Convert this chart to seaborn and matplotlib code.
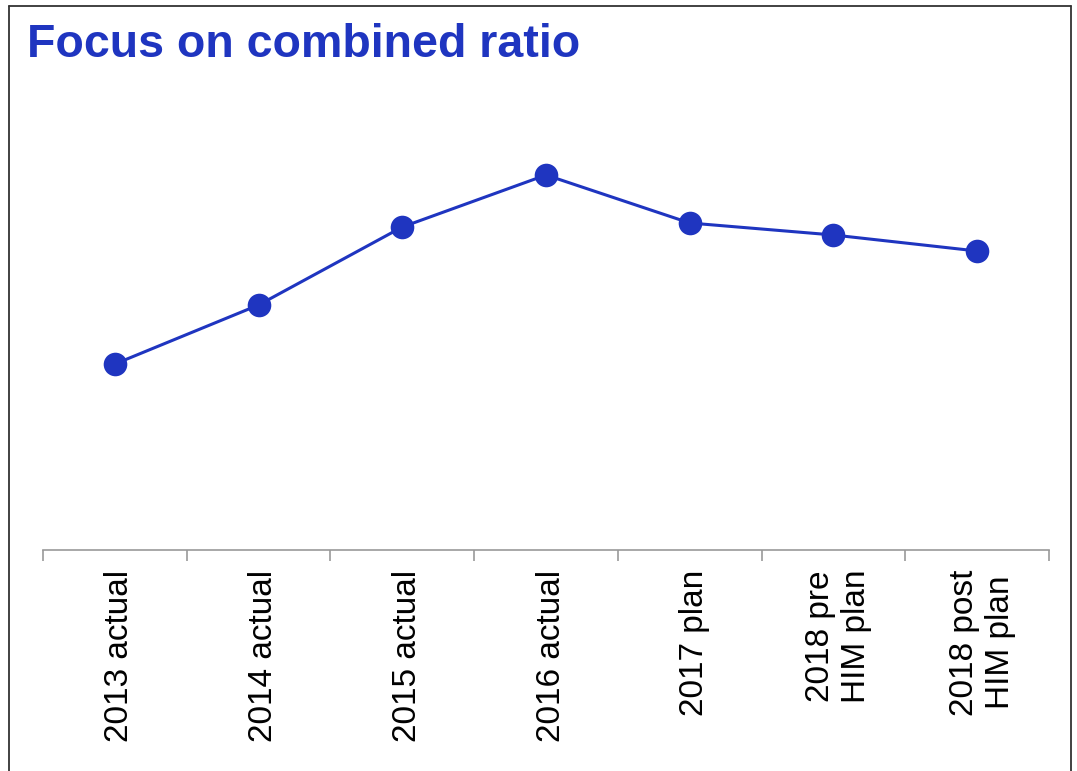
import matplotlib
matplotlib.use("Agg")
import matplotlib.pyplot as plt
from matplotlib.lines import Line2D
from matplotlib.transforms import ScaledTranslation
import seaborn as sns
import pandas as pd

categories = ["2013 actual", "2014 actual", "2015 actual", "2016 actual",
              "2017 plan", "2018 pre\nHIM plan", "2018 post\nHIM plan"]
# relative combined-ratio levels (no y scale shown in the original)
values = [186, 245, 323, 375, 327, 315, 299]

sns.set_theme(style="white")
plt.rcParams['font.family'] = ['Liberation Sans', 'DejaVu Sans']

df = pd.DataFrame({"cat": categories, "val": values, "x": range(len(categories))})

fig = plt.figure(figsize=(10.77, 7.71), dpi=100)
ax = fig.add_axes([43/1077, 221/771, (1049-43)/1077, (550-100)/771])

blue = "#1f35c0"
sns.lineplot(data=df, x="x", y="val", ax=ax, color=blue, linewidth=2.2,
             marker="o", markersize=17, markeredgewidth=0, markeredgecolor=blue)

ax.set_xlim(-0.5, len(categories) - 0.5)
ax.set_ylim(0, 450)
ax.set_xlabel("")
ax.set_ylabel("")
ax.set_yticks([])
for s in ["top", "right", "left"]:
    ax.spines[s].set_visible(False)
ax.spines["bottom"].set_color("#999999")
ax.spines["bottom"].set_linewidth(1.2)

# category labels centered, tick marks at boundaries
ax.set_xticks(range(len(categories)))
ax.set_xticklabels(categories, rotation=90, fontsize=24, color="black",
                   va="top", ha="center", multialignment="center")
ax.tick_params(axis="x", which="major", length=0, pad=14)
ax.set_xticks([i - 0.5 for i in range(len(categories) + 1)], minor=True)
ax.tick_params(axis="x", which="minor", length=8, width=1.2, color="#999999",
               direction="out", bottom=True)
offset = ScaledTranslation(5/100, 0, fig.dpi_scale_trans)
for lbl in ax.get_xticklabels():
    lbl.set_transform(lbl.get_transform() + offset)

fig.text(27/1077, 1 - 45/771, "Focus on combined ratio", fontsize=33.5,
         fontweight="bold", color=blue, va="center", ha="left")

# slide-like frame (left, top, right)
W, H = 1077, 771
fc = "#333333"
fig.add_artist(Line2D([9/W, 9/W], [0, 1 - 6/H], color=fc, linewidth=1.3, transform=fig.transFigure))
fig.add_artist(Line2D([9/W, 1070.5/W], [1 - 6/H, 1 - 6/H], color=fc, linewidth=1.3, transform=fig.transFigure))
fig.add_artist(Line2D([1070.5/W, 1070.5/W], [0, 1 - 6/H], color=fc, linewidth=1.3, transform=fig.transFigure))

fig.savefig("out.png", dpi=100)
